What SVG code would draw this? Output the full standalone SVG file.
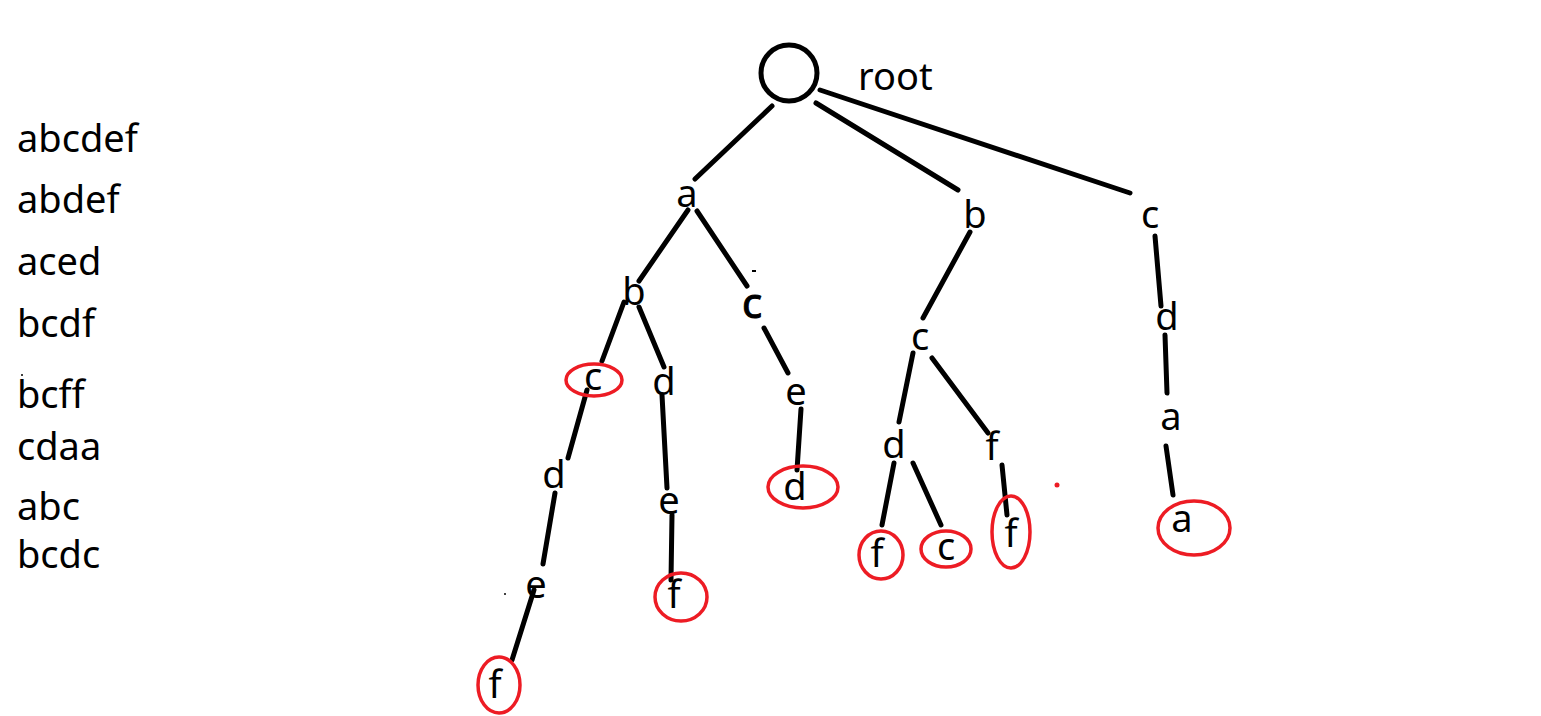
<svg xmlns="http://www.w3.org/2000/svg" width="1541" height="716" viewBox="0 0 1541 716">
<style>
.t{font-family:"Noto Sans","Liberation Sans",sans-serif;font-size:38px;fill:#000}
.n{font-family:"Noto Sans","Liberation Sans",sans-serif;font-size:38px;fill:#000;text-anchor:middle}
.e{stroke:#000;stroke-width:5;stroke-linecap:round;fill:none}
.r{stroke:#ed1c24;stroke-width:3.5;fill:none}
</style>
<rect width="1541" height="716" fill="#fff"/>
<g id="words">
<text class="t" x="17" y="152">abcdef</text>
<text class="t" x="17" y="213">abdef</text>
<text class="t" x="17" y="275">aced</text>
<text class="t" x="17" y="337">bcdf</text>
<text class="t" x="17" y="408">bcff</text>
<text class="t" x="17" y="460">cdaa</text>
<text class="t" x="17" y="520">abc</text>
<text class="t" x="17" y="568">bcdc</text>
<circle cx="22" cy="375" r="1" fill="#000"/>
</g>
<g id="connectors">
<line class="e" x1="772" y1="106" x2="695" y2="179"/>
<line class="e" x1="816" y1="103" x2="958" y2="190"/>
<line class="e" x1="820" y1="90" x2="1130" y2="193"/>
<line class="e" x1="688" y1="210" x2="639" y2="281"/>
<line class="e" x1="697" y1="211" x2="747" y2="286"/>
<line class="e" x1="624" y1="302" x2="602" y2="361"/>
<line class="e" x1="639" y1="307" x2="664" y2="367"/>
<line class="e" x1="764" y1="328" x2="788" y2="373"/>
<line class="e" x1="801" y1="409" x2="797" y2="470"/>
<line class="e" x1="587" y1="390" x2="568" y2="458"/>
<line class="e" x1="662" y1="395" x2="667" y2="488"/>
<line class="e" x1="555" y1="493" x2="543" y2="564"/>
<line class="e" x1="534" y1="590" x2="512" y2="660"/>
<line class="e" x1="672" y1="515" x2="671" y2="580"/>
<line class="e" x1="970" y1="232" x2="923" y2="318"/>
<line class="e" x1="913" y1="353" x2="899" y2="422"/>
<line class="e" x1="932" y1="358" x2="988" y2="433"/>
<line class="e" x1="894" y1="463" x2="882" y2="525"/>
<line class="e" x1="913" y1="463" x2="941" y2="525"/>
<line class="e" x1="1002" y1="465" x2="1007" y2="515"/>
<line class="e" x1="1155" y1="236" x2="1161" y2="306"/>
<line class="e" x1="1165" y1="335" x2="1167" y2="393"/>
<line class="e" x1="1166" y1="446" x2="1173" y2="495"/>
<line x1="752" y1="271" x2="756" y2="271" stroke="#000" stroke-width="2"/>
<circle cx="505" cy="594" r="1" fill="#000"/>
<circle cx="1057" cy="485" r="2.5" fill="#ed1c24"/>
</g>
<g id="root">
<circle cx="789" cy="73" r="28" stroke="#000" stroke-width="5" fill="none"/>
<text class="t" x="858" y="90">root</text>
</g>
<g id="n-a"><text class="n" x="687" y="207">a</text></g>
<g id="n-b"><text class="n" x="975" y="228">b</text></g>
<g id="n-c"><text class="n" x="1150" y="228">c</text></g>
<g id="n-ab"><text class="n" x="634" y="305">b</text></g>
<g id="n-ac"><text class="n" x="752" y="318" style="font-size:42px;stroke:#000;stroke-width:1">c</text></g>
<g id="n-abc"><ellipse class="r" cx="594" cy="380" rx="28" ry="16"/><text class="n" x="593" y="390">c</text></g>
<g id="n-abd"><text class="n" x="664" y="395">d</text></g>
<g id="n-ace"><text class="n" x="796" y="405">e</text></g>
<g id="n-abcd"><text class="n" x="554" y="488">d</text></g>
<g id="n-abcde"><text class="n" x="536" y="598">e</text></g>
<g id="n-abcdef"><ellipse class="r" cx="499" cy="685" rx="21" ry="28"/><text class="n" x="495" y="698">f</text></g>
<g id="n-abde"><text class="n" x="669" y="514">e</text></g>
<g id="n-abdef"><ellipse class="r" cx="681" cy="597" rx="26" ry="24"/><text class="n" x="674" y="608">f</text></g>
<g id="n-aced"><ellipse class="r" cx="803" cy="487" rx="35" ry="21"/><text class="n" x="795" y="500">d</text></g>
<g id="n-bc"><text class="n" x="920" y="350">c</text></g>
<g id="n-bcd"><text class="n" x="894" y="458">d</text></g>
<g id="n-bcf"><text class="n" x="992" y="460">f</text></g>
<g id="n-bcdf"><ellipse class="r" cx="881" cy="555" rx="22" ry="24"/><text class="n" x="877" y="567">f</text></g>
<g id="n-bcdc"><ellipse class="r" cx="946" cy="549" rx="25" ry="18"/><text class="n" x="946" y="560">c</text></g>
<g id="n-bcff"><ellipse class="r" cx="1011" cy="532" rx="19" ry="36"/><text class="n" x="1011" y="547">f</text></g>
<g id="n-cd"><text class="n" x="1167" y="330">d</text></g>
<g id="n-cda"><text class="n" x="1171" y="430">a</text></g>
<g id="n-cdaa"><ellipse class="r" cx="1194" cy="528" rx="36" ry="27"/><text class="n" x="1182" y="532">a</text></g>
</svg>
